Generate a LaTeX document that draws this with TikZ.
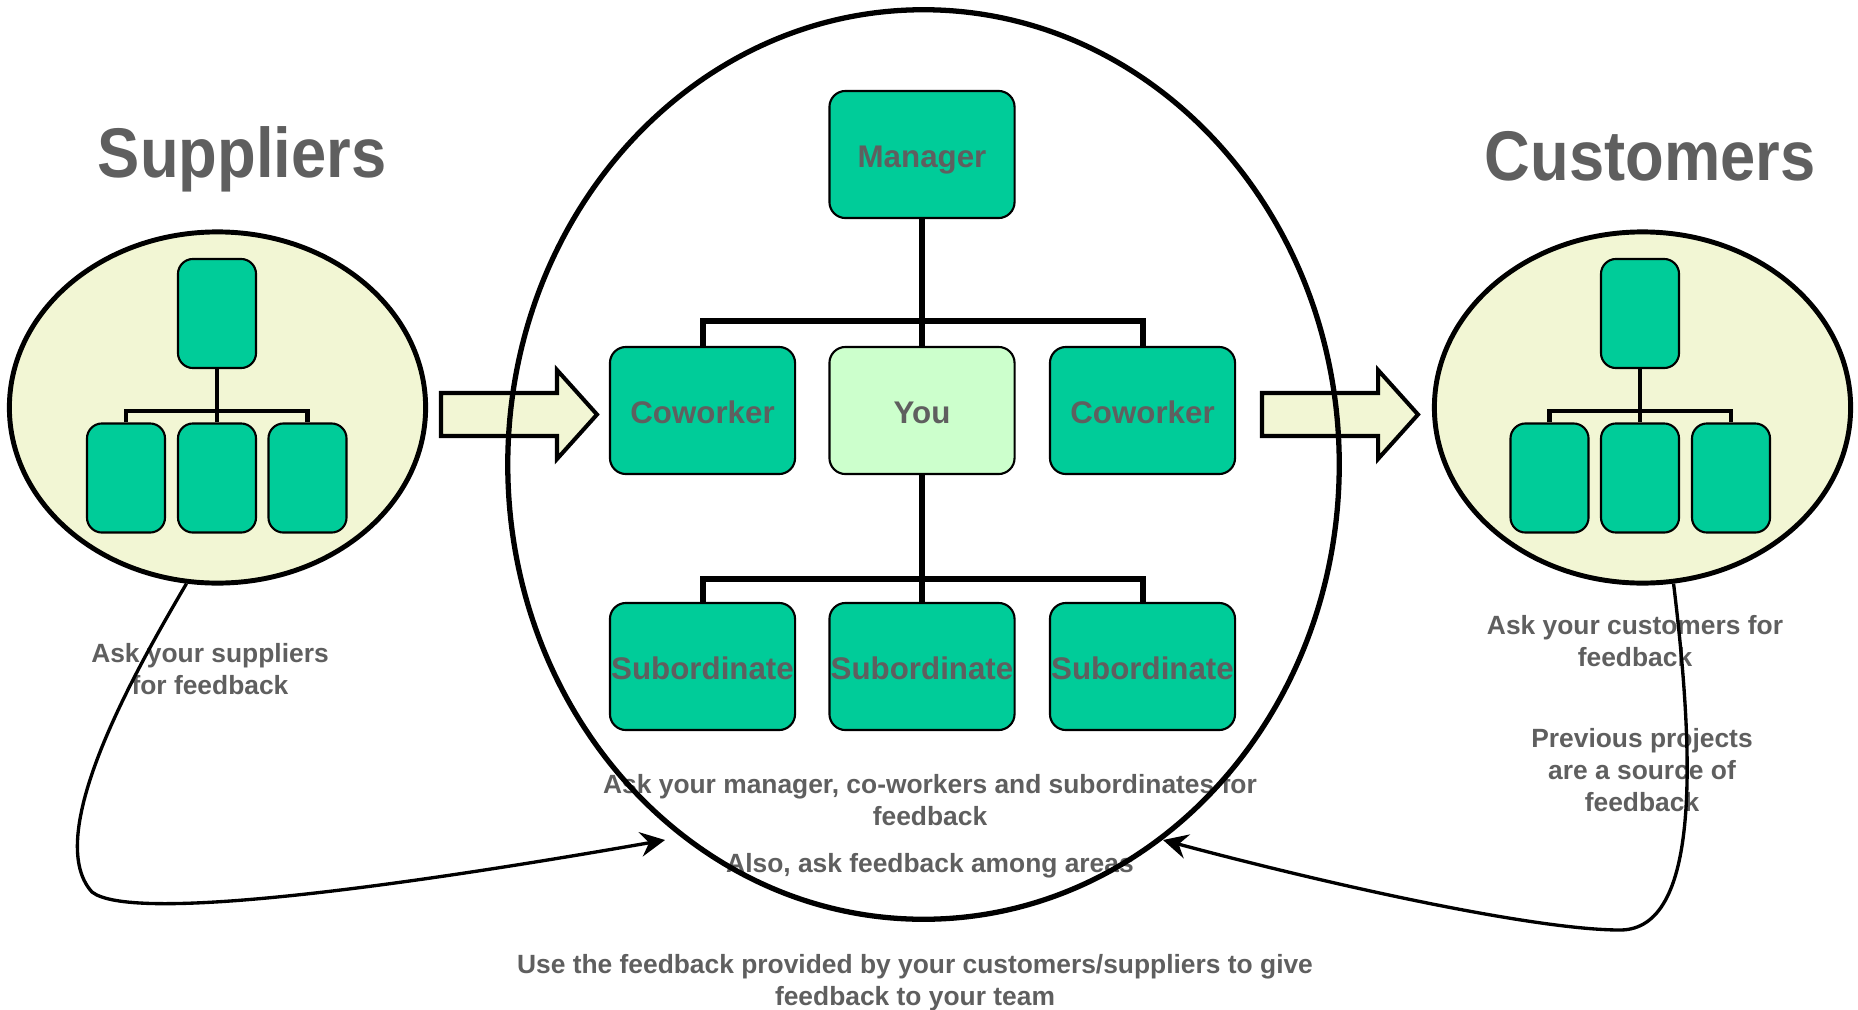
\documentclass[tikz,border=0pt]{standalone}
\usepackage{fontspec}
\usepackage{graphicx}
\setmainfont{Liberation Sans}
\usetikzlibrary{shapes.geometric,arrows.meta}
\definecolor{boxgreen}{HTML}{00CC99}
\definecolor{youfill}{HTML}{CCFFCC}
\definecolor{ellfill}{HTML}{F2F6D4}
\definecolor{txtgray}{HTML}{5F5F5F}
\begin{document}
\begin{tikzpicture}[x=0.01cm,y=-0.01cm,
  orgbox/.style={draw, line width=0.6pt, rounded corners=0.16cm, fill=boxgreen,
    minimum width=1.85cm, minimum height=1.27cm, inner sep=0pt, text=txtgray,
    text height=7.2pt, text depth=0pt,
    font=\fontsize{8.9}{10}\selectfont\bfseries},
  minibox/.style={draw, line width=0.6pt, rounded corners=0.15cm, fill=boxgreen,
    minimum width=0.78cm, minimum height=1.09cm, inner sep=0pt},
  conn/.style={line width=1.7pt},
  miniconn/.style={line width=1.4pt},
  miniell/.style={ellipse, draw, line width=1.4pt, fill=ellfill, inner sep=0pt,
    minimum width=4.16cm, minimum height=3.51cm},
  blockarrow/.style={draw, line width=1.15pt, fill=ellfill, line join=miter},
  title/.style={anchor=base, text=txtgray, inner sep=0pt,
    font=\fontsize{20}{22}\selectfont\bfseries},
  note/.style={text=txtgray, inner sep=0pt, align=center,
    font=\fontsize{7.5}{9.1}\selectfont\bfseries},
  curve/.style={line width=0.95pt, -{Stealth[length=7pt,width=7pt,inset=2.4pt]}}
]
\useasboundingbox (0,0) rectangle (1858,1009);

% titles
\node[title] (tsup) at (242,177) {\scalebox{0.9}[1]{Suppliers}};
\node[title] (tcus) at (1650,180) {\scalebox{0.9}[1]{Customers}};

% left mini chart (suppliers)
\node[miniell] (lsup) at (217.5,407.5) {};
\node[minibox] (lt) at (217,313.5) {};
\node[minibox] (lb1) at (126,478) {};
\node[minibox] (lb2) at (217,478) {};
\node[minibox] (lb3) at (307.5,478) {};
\coordinate (lbus) at (217,411);
\draw[miniconn] (lt.south) -- (lb2.north);
\draw[miniconn] (lb1.north) |- (lbus) -| (lb3.north);

% right mini chart (customers)
\node[miniell] (rcus) at (1642.5,407.5) {};
\node[minibox] (rt) at (1640,313.5) {};
\node[minibox] (rb1) at (1549.5,478) {};
\node[minibox] (rb2) at (1640,478) {};
\node[minibox] (rb3) at (1731,478) {};
\coordinate (rbus) at (1640,411);
\draw[miniconn] (rt.south) -- (rb2.north);
\draw[miniconn] (rb1.north) |- (rbus) -| (rb3.north);

% block arrows
\draw[blockarrow] (441,393) -- (557,393) -- (557,370) -- (597,414.5) -- (557,459) -- (557,436) -- (441,436) -- cycle;
\draw[blockarrow] (1262,393) -- (1378,393) -- (1378,370) -- (1418,414.5) -- (1378,459) -- (1378,436) -- (1262,436) -- cycle;

% notes
\node[note] (nsup) at (210,669) {Ask your suppliers\\for feedback};
\node[note] (ncus) at (1635,641) {Ask your customers for\\feedback};
\node[note] (nprev) at (1642,770) {Previous projects\\are a source of\\feedback};
\node[note] (nteam) at (930,800) {Ask your manager, co-workers and subordinates for\\feedback};
\node[note, anchor=base] (nareas) at (930,872) {Also, ask feedback among areas};
\node[note] (nuse) at (915,982.5) {Use the feedback provided by your customers/suppliers to give\\feedback to your team};

% central org chart
\node[orgbox] (mgr) at (922,154.5) {Manager};
\node[orgbox] (cw1) at (702.5,410.5) {Coworker};
\node[orgbox, fill=youfill] (you) at (922,410.5) {You};
\node[orgbox] (cw2) at (1142.5,410.5) {Coworker};
\node[orgbox] (sub1) at (702.5,666.5) {Subordinate};
\node[orgbox] (sub2) at (922,666.5) {Subordinate};
\node[orgbox] (sub3) at (1142.5,666.5) {Subordinate};
\coordinate (bus1) at (922,321);
\coordinate (bus2) at (922,579);
\draw[conn] (mgr.south) -- (you.north);
\draw[conn] (cw1.north) |- (bus1) -| (cw2.north);
\draw[conn] (you.south) -- (sub2.north);
\draw[conn] (sub1.north) |- (bus2) -| (sub3.north);

% big ellipse
\node[ellipse, draw, line width=1.5pt, inner sep=0pt, minimum width=8.31cm, minimum height=9.09cm] (team) at (923.5,464.5) {};

% feedback curves
\coordinate (ltip) at (665,840);
\coordinate (rtip) at (1163,840);
\draw[curve] (lsup.260) .. controls (140,663) and (40,835) .. (92,892)
  .. controls (130,922) and (380,890) .. (ltip);
\draw[curve] (rcus.280) .. controls (1695,760) and (1700,930) .. (1620,930)
  .. controls (1540,930) and (1350,890) .. (rtip);
\end{tikzpicture}
\end{document}
